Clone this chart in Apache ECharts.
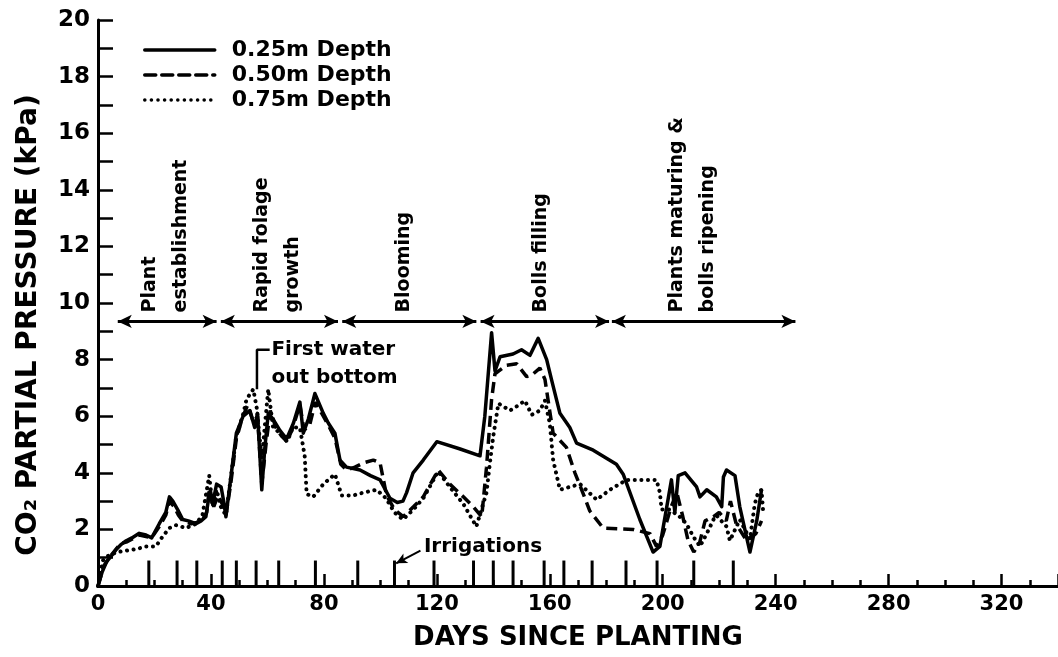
<!DOCTYPE html>
<html><head><meta charset="utf-8">
<script src="https://cdn.jsdelivr.net/npm/echarts@6/dist/echarts.min.js"></script>
<style>html,body{margin:0;padding:0;background:#fff}#c{width:1058px;height:657px}</style>
</head><body><div id="c"></div>
<script>
// ---- data: [day since planting, CO2 partial pressure kPa] ----
const depth025 = [[0,0],[1.5,0.5],[3,0.85],[5,1.1],[6.5,1.3],[8,1.45],[10,1.6],[12,1.7],[14.6,1.86],[17,1.8],[19,1.7],[21.7,2.2],[24,2.6],[25.3,3.15],[26.5,3.0],[28.2,2.7],[30,2.35],[32,2.3],[34.7,2.2],[36.5,2.3],[38.2,2.45],[39.5,3.3],[40.6,2.9],[42,3.6],[43.6,3.5],[44.5,3.0],[45.3,2.45],[47,3.8],[49,5.4],[51.4,6.0],[53.8,6.2],[55.5,5.6],[56.5,6.1],[58,3.4],[59.1,4.9],[60.3,6.1],[62,5.9],[64.4,5.5],[66.8,5.2],[69.2,5.75],[71.5,6.5],[72.7,5.4],[74.5,5.9],[76.8,6.8],[79.8,6.1],[81.6,5.75],[83.9,5.4],[85.7,4.45],[88,4.2],[92.8,4.1],[96.5,3.9],[99.9,3.75],[103.4,3.1],[106,2.95],[108,3.0],[109.3,3.3],[111.6,4.0],[115.2,4.45],[120,5.1],[128,4.85],[135.3,4.6],[137,6.0],[139.4,8.95],[140.6,7.6],[142.4,8.1],[147,8.2],[150,8.35],[153,8.15],[155.9,8.75],[158.9,8.0],[160.6,7.3],[163.6,6.1],[167.1,5.6],[169.5,5.05],[175.4,4.8],[183.6,4.3],[186,3.95],[191.9,2.35],[196.6,1.2],[199,1.4],[203.1,3.75],[204.3,2.6],[205.5,3.9],[207.9,4.0],[212,3.5],[213.2,3.15],[215.6,3.4],[219,3.15],[220.9,2.8],[221.5,3.85],[222.6,4.1],[225.6,3.9],[227.3,2.8],[230.9,1.2],[233.3,2.3],[235,3.4]];
const depth050 = [[0,0],[2,0.7],[4,1.0],[6,1.25],[8,1.5],[10,1.55],[12,1.65],[14.6,1.8],[17,1.75],[19,1.7],[21.7,2.1],[24,2.5],[25.3,3.0],[27,2.8],[28.5,2.5],[30,2.3],[33,2.2],[35,2.25],[37,2.35],[38.5,2.6],[39.5,3.5],[41,2.8],[42.5,3.2],[44,2.9],[45.3,2.5],[47,3.6],[49,5.2],[51,5.9],[53,6.4],[55,5.8],[56.5,6.0],[58,3.6],[59.5,5.0],[61,6.2],[63,5.6],[65,5.3],[67,5.1],[69,5.6],[71.5,6.4],[73,5.5],[75,5.7],[77,6.5],[79.8,6.0],[82,5.6],[84,5.2],[86,4.3],[88,4.1],[91,4.2],[94,4.35],[97.5,4.45],[99.9,4.35],[102.2,3.2],[105,2.7],[108.1,2.45],[111.7,2.8],[115.2,3.15],[120.5,4.1],[124.6,3.6],[129.4,3.15],[132.9,2.8],[135.9,2.45],[137.6,4.2],[139.4,6.6],[140.6,7.5],[144.7,7.8],[148.3,7.85],[151.8,7.4],[153.6,7.45],[156.5,7.7],[158.3,7.3],[159.5,6.5],[161.2,5.4],[165.9,4.9],[168.9,4.0],[171.3,3.4],[174.2,2.65],[178.9,2.05],[189.5,2.0],[195.5,1.85],[197.8,1.4],[200,1.8],[203,2.8],[205,3.3],[207,2.5],[209,1.6],[211,1.2],[213,1.5],[215,2.3],[218,2.45],[220,2.6],[222.5,2.3],[224,3.0],[226,2.2],[229.7,1.6],[233,1.85],[235,2.3]];
const depth075 = [[0,0],[1.7,0.9],[4,1.1],[7,1.2],[10,1.25],[13.5,1.3],[17,1.4],[20.5,1.4],[22.9,1.75],[25.3,2.05],[27.6,2.15],[31.2,2.05],[34.7,2.2],[37,2.5],[39.4,3.9],[40.6,2.8],[42,3.4],[43.5,2.8],[45.3,2.5],[47,3.8],[49,5.3],[51.5,6.1],[52.6,6.6],[55,6.95],[56.2,6.3],[58,4.5],[60.3,6.95],[62,5.6],[64.5,5.4],[67,5.1],[69,5.6],[71.5,5.6],[73.2,4.6],[73.9,3.25],[76.2,3.15],[79.8,3.6],[83.9,3.95],[86.3,3.2],[90.4,3.2],[94,3.3],[98.7,3.4],[102,3.1],[105,2.6],[108,2.35],[111.7,2.7],[115.2,3.1],[120.5,4.05],[124.6,3.5],[129.4,2.9],[134,2.1],[137.6,3.3],[138.8,4.35],[140,5.3],[141.8,6.45],[143.5,6.35],[145.9,6.2],[148.3,6.35],[151.2,6.55],[153.6,6.05],[156.5,6.2],[158.3,6.55],[160,5.75],[161.2,4.45],[163.6,3.4],[167.1,3.5],[170.7,3.6],[176.6,3.05],[181.3,3.4],[187.2,3.75],[194.3,3.75],[197.8,3.75],[199,3.3],[199.6,2.7],[202.5,2.7],[206,2.45],[208.4,2.2],[210.8,1.75],[213.2,1.4],[215.6,1.85],[218,2.35],[219,2.5],[222.6,2.1],[223.8,1.6],[227.3,2.35],[230.9,1.65],[232.6,2.9],[233.8,3.3],[235,3.4],[235.6,2.6]];
const seriesNames = ['0.25m Depth', '0.50m Depth', '0.75m Depth'];

// irrigation dates (days) and their marker height (kPa)
const irrigationDays = [18, 28, 35, 44, 49, 56, 64, 77, 92, 105, 119, 133, 140, 147, 158, 165, 175, 187, 198, 211, 225];
const irrigationMark = 0.9;

// crop growth phases
const phaseNames = ['Plant\nestablishment', 'Rapid folage\ngrowth', 'Blooming', 'Bolls filling', 'Plants maturing &\nbolls ripening'];
const phaseStart = [7, 43.5, 86.5, 135.5, 182];
const phaseEnd = [42, 85, 134, 181, 247];
const phaseLabelDay = [24, 63.7, 108.7, 157, 210.8];
const phaseLevel = 9.35;
const phaseLabelLevel = 9.65;

// annotations
const firstWaterText = 'First water\nout bottom';
const firstWaterLeader = [[60.8, 8.35], [56.3, 8.35], [56.3, 6.95]];
const firstWaterTextAt = [61.6, 7.84];
const irrigationText = 'Irrigations';
const irrigationTextAt = [115.6, 1.38];
const irrigationArrow = [[114.2, 1.25], [105.6, 0.8]];

// axes
const xMin = 0, xMax = 340, xStep = 40;
const yMin = 0, yMax = 20, yStep = 2;

const FONT = 'DejaVu Sans';
const chart = echarts.init(document.getElementById('c'), null, {renderer: 'canvas'});

const annot = [];
phaseNames.forEach((n, i) => annot.push({
  value: [phaseLabelDay[i], phaseLabelLevel],
  label: {formatter: n, rotate: 90, align: 'left', verticalAlign: 'middle', lineHeight: 31, fontSize: 19}
}));
annot.push({value: firstWaterTextAt, label: {formatter: firstWaterText, align: 'left', verticalAlign: 'middle', lineHeight: 28, fontSize: 20}});
annot.push({value: irrigationTextAt, label: {formatter: irrigationText, align: 'left', verticalAlign: 'middle', fontSize: 20}});

const phaseLines = phaseStart.map((s, i) => [
  {coord: [s, phaseLevel], symbol: 'arrow'},
  {coord: [phaseEnd[i], phaseLevel], symbol: 'arrow'}
]);
phaseLines.push([
  {coord: irrigationArrow[0], symbol: 'none', lineStyle: {width: 2}},
  {coord: irrigationArrow[1], symbol: 'arrow', symbolSize: [8, 11]}
]);

chart.setOption({
  animation: false,
  backgroundColor: '#fff',
  textStyle: {fontFamily: FONT, color: '#000', fontWeight: 'bold'},
  grid: {left: 98, right: 0, top: 20, bottom: 71, containLabel: false},
  legend: {
    data: seriesNames, orient: 'vertical', left: 143, top: 39, padding: 0,
    itemWidth: 70, itemHeight: 16, itemGap: 3,
    itemStyle: {opacity: 0},
    lineStyle: {width: 3.5, cap: 'round'},
    textStyle: {fontFamily: FONT, fontSize: 22, fontWeight: 'bold', color: '#000', padding: [0, 0, 0, 12]},
    selectedMode: false
  },
  xAxis: {
    type: 'value', min: xMin, max: xMax, interval: xStep,
    name: 'DAYS SINCE PLANTING', nameLocation: 'middle', nameGap: 39,
    nameTextStyle: {fontFamily: FONT, fontSize: 26, fontWeight: 'bold', color: '#000'},
    axisLine: {lineStyle: {color: '#000', width: 3}},
    axisTick: {inside: true, length: 12, lineStyle: {color: '#000', width: 2.5}},
    minorTick: {show: true, splitNumber: 4, length: 6, lineStyle: {color: '#000', width: 2.5}},
    axisLabel: {margin: 8, fontFamily: FONT, fontSize: 21, fontWeight: 'bold', color: '#000', showMaxLabel: false},
    splitLine: {show: false}
  },
  yAxis: {
    type: 'value', min: yMin, max: yMax, interval: yStep,
    name: 'CO\u2082 PARTIAL PRESSURE (kPa)', nameLocation: 'middle', nameGap: 55, nameRotate: 90,
    nameTextStyle: {fontFamily: FONT, fontSize: 28, fontWeight: 'bold', color: '#000', padding: [0, 44, 0, 0]},
    axisLine: {lineStyle: {color: '#000', width: 3}},
    axisTick: {inside: true, length: 15, lineStyle: {color: '#000', width: 2.5}},
    minorTick: {show: true, splitNumber: 2, length: 15, lineStyle: {color: '#000', width: 2.5}},
    axisLabel: {margin: 8, fontFamily: FONT, fontSize: 23, fontWeight: 'bold', color: '#000'},
    splitLine: {show: false}
  },
  series: [
    {name: seriesNames[0], type: 'line', data: depth025, symbol: 'none', z: 5,
     lineStyle: {color: '#000', width: 3.5, join: 'round'}, itemStyle: {color: '#000', opacity: 0}},
    {name: seriesNames[1], type: 'line', data: depth050, symbol: 'none', z: 4,
     lineStyle: {color: '#000', width: 3.5, type: [11, 6]}, itemStyle: {color: '#000', opacity: 0}},
    {name: seriesNames[2], type: 'line', data: depth075, symbol: 'none', z: 3,
     lineStyle: {color: '#000', width: 4, type: [0.1, 6.5], cap: 'round'}, itemStyle: {color: '#000', opacity: 0}},
    {name: 'Irrigations', type: 'bar', data: irrigationDays.map(d => [d, irrigationMark]),
     barWidth: 3, itemStyle: {color: '#000'}, silent: true, z: 2},
    {name: 'leader', type: 'line', data: firstWaterLeader, symbol: 'none', silent: true,
     lineStyle: {color: '#000', width: 2.5}, z: 6,
     markLine: {silent: true, symbol: ['arrow', 'arrow'], symbolSize: [10, 14],
       label: {show: false}, lineStyle: {color: '#000', width: 3, type: 'solid'},
       emphasis: {disabled: true}, data: phaseLines}},
    {name: 'notes', type: 'scatter', data: annot, symbol: 'circle', symbolSize: 1, silent: true,
     itemStyle: {color: 'rgba(0,0,0,0)'},
     label: {show: true, position: [0, 0], color: '#000', opacity: 1, textBorderWidth: 0,
       fontFamily: FONT, fontWeight: 'bold'}, z: 7}
  ]
});
</script></body></html>
